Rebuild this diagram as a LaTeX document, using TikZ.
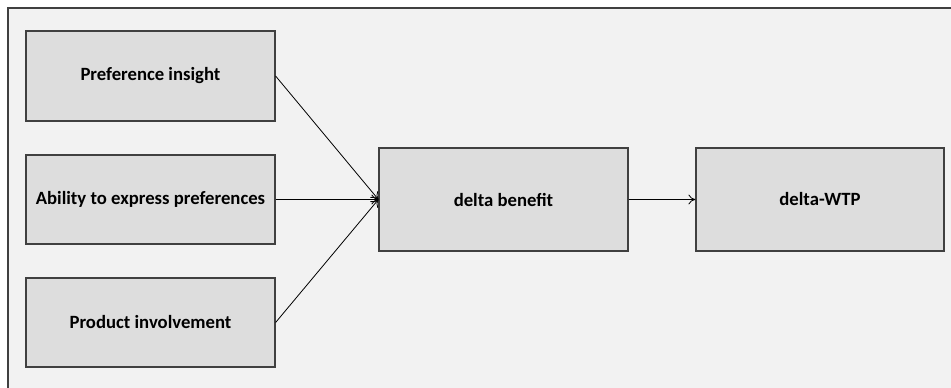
\documentclass[tikz,border=0pt]{standalone}
\usepackage{fontspec}
\setmainfont{Carlito}
\usetikzlibrary{arrows.meta}
\definecolor{bggray}{HTML}{F2F2F2}
\definecolor{boxgray}{HTML}{DDDDDD}
\definecolor{edgegray}{HTML}{404040}
\tikzset{
  boxnode/.style={draw=edgegray, line width=1.2pt, fill=boxgray, rectangle, inner sep=0pt,
    font=\fontsize{18.7}{22}\selectfont\bfseries, text=black},
  link/.style={draw=black, line width=0.8pt, -{To[length=7pt,width=10pt]}}
}
\begin{document}
\begin{tikzpicture}[x=1pt,y=-1pt]
\useasboundingbox (0,0) rectangle (951,388);
\fill[white] (0,0) rectangle (951,388);
\fill[bggray] (8,8) rectangle (951,388);
\draw[edgegray, line width=1.3pt] (8,388) -- (8,8) -- (951,8);
\node[boxnode, minimum width=249pt, minimum height=90pt] (pi) at (150.5,76) {Preference insight};
\node[boxnode, minimum width=249pt, minimum height=89pt] (ab) at (150.5,199.5) {Ability to express preferences};
\node[boxnode, minimum width=249pt, minimum height=89pt] (pr) at (150.5,322.5) {Product involvement};
\node[boxnode, minimum width=249pt, minimum height=103pt] (db) at (503.5,199.5) {delta benefit};
\node[boxnode, minimum width=248pt, minimum height=103pt] (wtp) at (820,199.5) {delta-WTP};
\draw[link] (pi.east) -- (db.west);
\draw[link] (ab.east) -- (db.west);
\draw[link] (pr.east) -- (db.west);
\draw[link] (db.east) -- (wtp.west);
\end{tikzpicture}
\end{document}
